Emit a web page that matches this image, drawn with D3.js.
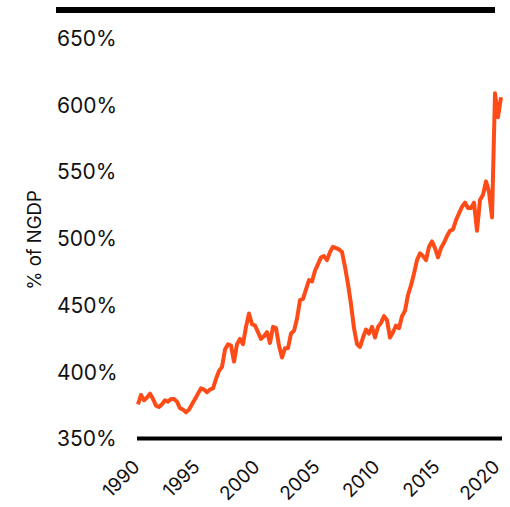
<!DOCTYPE html>
<html>
<head>
<meta charset="utf-8">
<script src="https://cdn.jsdelivr.net/npm/d3@7"></script>
<style>
  html, body { margin: 0; padding: 0; background: #fff; }
  svg { display: block; }
  text { font-family: "Inter", "Lato", sans-serif; fill: #111; }
</style>
</head>
<body>
<svg id="chart" width="510" height="507"></svg>
<script>
// Quarterly series, 1990 Q3 – 2020 Q4 (% of nominal GDP)
const startYear = 1990.5;
const values = [
  376, 383,                     // 1990
  379, 381, 384, 380,           // 1991
  375, 374, 376, 379,           // 1992
  378, 380, 380, 378,           // 1993
  373, 372, 370, 372,           // 1994
  376, 380, 384, 388,           // 1995
  387, 385, 387, 388,           // 1996
  395, 401, 404, 417,           // 1997
  421, 420, 408, 421,           // 1998
  425, 421, 434, 444,           // 1999
  436, 435, 430, 425,           // 2000
  427, 430, 422, 434,           // 2001
  433, 420, 411, 418,           // 2002
  418, 429, 431, 440,           // 2003
  454, 455, 462, 469,           // 2004
  468, 476, 481, 486,           // 2005
  487, 484, 490, 494,           // 2006
  493, 492, 490, 479,           // 2007
  466, 451, 433, 421,           // 2008
  419, 426, 432, 429,           // 2009
  434, 426, 434, 437,           // 2010
  442, 439, 426, 430,           // 2011
  435, 433, 442, 446,           // 2012
  458, 465, 474, 484,           // 2013
  489, 487, 484, 494,           // 2014
  498, 493, 486, 493,           // 2015
  497, 502, 506, 507,           // 2016
  514, 519, 524, 527,           // 2017
  523, 523, 527, 506,           // 2018
  529, 533, 543, 535,           // 2019
  516, 609, 591, 606            // 2020
];
const yTicks = [350, 400, 450, 500, 550, 600, 650];
const xTicks = [1990, 1995, 2000, 2005, 2010, 2015, 2020];
const yTitle = "% of NGDP";

const data = values.map((v, i) => ({ t: startYear + i / 4, v }));

const svg = d3.select("#chart");

const x = d3.scaleLinear().domain([1990, 2020]).range([132, 492]);
const y = d3.scaleLinear().domain([350, 650]).range([439, 38.5]);

// heavy rule across the top
svg.append("line")
  .attr("x1", 56).attr("x2", 495)
  .attr("y1", 10).attr("y2", 10)
  .attr("stroke", "#000").attr("stroke-width", 6);

// y tick labels
svg.append("g").selectAll("text")
  .data(yTicks)
  .join("text")
  .attr("x", 57)
  .attr("y", d => y(d))
  .attr("dy", "0.35em")
  .style("font-size", "21px")
  .text(d => d + "%");

// y axis title
svg.append("text")
  .attr("transform", "translate(41,240) rotate(-90)")
  .attr("text-anchor", "middle")
  .style("font-size", "18.5px")
  .text(yTitle);

// baseline
const x0 = x(data[0].t), x1 = x(data[data.length - 1].t);
svg.append("line")
  .attr("x1", x0 - 1).attr("x2", x1 + 1)
  .attr("y1", 438.5).attr("y2", 438.5)
  .attr("stroke", "#000").attr("stroke-width", 4);

// x tick labels, rotated
svg.append("g").selectAll("text")
  .data(xTicks)
  .join("text")
  .attr("text-anchor", "end")
  .attr("transform", d => `translate(${x(d) + 9},468) rotate(-45)`)
  .style("font-size", "19px")
  .text(d => d);

// series line
const line = d3.line()
  .x(d => x(d.t))
  .y(d => y(d.v));

svg.append("path")
  .datum(data)
  .attr("fill", "none")
  .attr("stroke", "#ff4b17")
  .attr("stroke-width", 4)
  .attr("stroke-linejoin", "round")
  .attr("stroke-linecap", "butt")
  .attr("d", line);
</script>
</body>
</html>
